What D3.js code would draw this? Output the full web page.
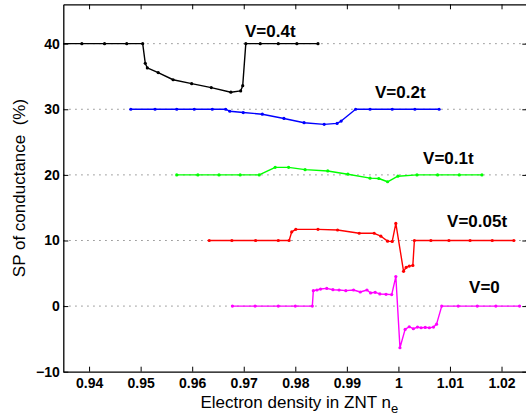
<!DOCTYPE html>
<html>
<head>
<meta charset="utf-8">
<script src="https://cdn.jsdelivr.net/npm/d3@7"></script>
<style>
body { margin: 0; background: #fff; }
svg { display: block; }
text { font-family: "Liberation Sans", Arial, Helvetica, sans-serif; }
</style>
</head>
<body>
<svg width="526" height="415"></svg>
<script>
// electron density n_e (x) and spin polarisation of conductance in % (y), one pair per curve
var nV04 = [0.9343, 0.9386, 0.9430, 0.9473, 0.9504, 0.9509, 0.9513, 0.9534, 0.9563, 0.9599,
            0.9637, 0.9675, 0.9694, 0.9698, 0.9704, 0.9732, 0.9767, 0.9803, 0.9844];
var spV04 = [40, 40, 40, 40, 40, 37.0, 36.3, 35.6, 34.5, 33.9,
             33.3, 32.6, 32.8, 33.6, 40, 40, 40, 40, 40];

var nV02 = [0.9481, 0.9528, 0.9570, 0.9604, 0.9639, 0.9665, 0.9673, 0.9699, 0.9736, 0.9778,
            0.9817, 0.9856, 0.9881, 0.9889, 0.9917, 0.9945, 0.9988, 1.0032, 1.0079];
var spV02 = [30, 30, 30, 30, 30, 30, 29.7, 29.5, 29.25, 28.6,
             27.95, 27.7, 27.85, 28.2, 30, 30, 30, 30, 30];

var nV01 = [0.9570, 0.9611, 0.9652, 0.9693, 0.9730, 0.9761, 0.9787, 0.9819, 0.9863, 0.9902,
            0.9945, 0.9962, 0.9979, 0.9999, 1.0036, 1.0076, 1.0118, 1.0162];
var spV01 = [20, 20, 20, 20, 20, 21.15, 21.15, 20.8, 20.6, 20.1,
             19.5, 19.45, 18.95, 19.8, 20, 20, 20, 20];

var nV005 = [0.9633, 0.9677, 0.9723, 0.9767, 0.9788, 0.9793, 0.9801, 0.9844, 0.9882, 0.9924,
             0.9953, 0.9966, 0.9979, 0.9988, 0.9995, 1.0010, 1.0015, 1.0021, 1.0028, 1.0031,
             1.0063, 1.0098, 1.0139, 1.0182, 1.0224];
var spV005 = [10, 10, 10, 10, 10, 11.3, 11.7, 11.7, 11.6, 11.1,
              11.1, 10.65, 9.9, 9.85, 12.6, 5.3, 5.9, 6.1, 6.2, 10,
              10, 10, 10, 10, 10];

var nV0 = [0.9678, 0.9722, 0.9767, 0.9800, 0.9833, 0.9835, 0.9842, 0.9849, 0.9861, 0.9873,
           0.9885, 0.9898, 0.9913, 0.9926, 0.9939, 0.9946, 0.9955, 0.9964, 0.9976, 0.9987,
           0.9995, 1.0003, 1.0013, 1.0021, 1.0029, 1.0037, 1.0044, 1.0052, 1.0060, 1.0068,
           1.0074, 1.0084, 1.0116, 1.0153, 1.0189, 1.0235];
var spV0 = [0, 0, 0, 0, 0, 2.35, 2.45, 2.6, 2.7, 2.5,
            2.45, 2.35, 2.45, 2.15, 2.45, 2.0, 2.1, 1.85, 1.8, 1.75,
            4.5, -6.35, -3.55, -3.15, -3.45, -3.2, -3.3, -3.25, -3.3, -3.2,
            -2.75, 0, 0, 0, 0, 0];

var curveNames = ["V=0.4t", "V=0.2t", "V=0.1t", "V=0.05t", "V=0"];
var curveColors = ["#000000", "#0000ff", "#00ff00", "#ff0000", "#ff00ff"];
// where the text labels sit, in data units (left end, baseline)
var labelN = [0.97025, 0.99546, 1.00479, 1.00944, 1.01371];
var labelSP = [41.0, 31.7, 21.6, 12.0, 2.0];

var xTicks = [0.94, 0.95, 0.96, 0.97, 0.98, 0.99, 1.00, 1.01, 1.02];
var yTicks = [-10, 0, 10, 20, 30, 40];

var svg = d3.select("svg");

var x = d3.scaleLinear().domain([0.935, 1.025]).range([63.3, 527.3]);
var y = d3.scaleLinear().domain([-10, 46]).range([371.7, 4.3]);

var series = [
    {n: nV04, sp: spV04},
    {n: nV02, sp: spV02},
    {n: nV01, sp: spV01},
    {n: nV005, sp: spV005},
    {n: nV0, sp: spV0}
];

svg.append("defs").append("clipPath").attr("id", "plotclip")
    .append("rect")
    .attr("x", x.range()[0]).attr("y", y.range()[1])
    .attr("width", x.range()[1] - x.range()[0])
    .attr("height", y.range()[0] - y.range()[1]);

// dotted horizontal grid
svg.append("g")
    .selectAll("line")
    .data(yTicks.filter(function(d) { return d > -10; }))
    .enter().append("line")
    .attr("x1", x.range()[0])
    .attr("x2", x.range()[1])
    .attr("y1", function(d) { return y(d); })
    .attr("y2", function(d) { return y(d); })
    .attr("stroke", "#777")
    .attr("stroke-width", 1)
    .attr("stroke-dasharray", "1.3,4.7");

var fmt = function(d) { return String(+d.toFixed(2)); };

// axes, ticks pointing inward like matlab
svg.append("g")
    .attr("transform", "translate(0," + y.range()[0] + ")")
    .call(d3.axisBottom(x).tickValues(xTicks).tickFormat(fmt).tickSizeInner(-5).tickSizeOuter(0).tickPadding(6));
svg.append("g")
    .attr("transform", "translate(0," + y.range()[1] + ")")
    .call(d3.axisTop(x).tickValues(xTicks).tickFormat("").tickSizeInner(-5).tickSizeOuter(0));
svg.append("g")
    .attr("transform", "translate(" + x.range()[0] + ",0)")
    .call(d3.axisLeft(y).tickValues(yTicks).tickFormat(d3.format("d")).tickSizeInner(-5).tickSizeOuter(0).tickPadding(3.5));
svg.append("g")
    .attr("transform", "translate(" + x.range()[1] + ",0)")
    .call(d3.axisRight(y).tickValues(yTicks).tickFormat("").tickSizeInner(-5).tickSizeOuter(0));

svg.selectAll(".domain").attr("stroke", "#000").attr("stroke-width", 1.3);
svg.selectAll(".tick line").attr("stroke", "#000").attr("stroke-width", 1);
svg.selectAll(".tick text")
    .attr("fill", "#000")
    .style("font-size", "14px")
    .style("font-weight", "bold")
    .style("font-family", "'Liberation Sans', Arial, sans-serif");

// curves
var line = d3.line()
    .x(function(d) { return x(d[0]); })
    .y(function(d) { return y(d[1]); });

var plot = svg.append("g").attr("clip-path", "url(#plotclip)");

series.forEach(function(s, i) {
    var pts = d3.zip(s.n, s.sp);
    plot.append("path")
        .datum(pts)
        .attr("fill", "none")
        .attr("stroke", curveColors[i])
        .attr("stroke-width", 1.4)
        .attr("stroke-linejoin", "round")
        .attr("d", line);
    plot.append("g")
        .selectAll("circle")
        .data(pts)
        .enter().append("circle")
        .attr("cx", function(d) { return x(d[0]); })
        .attr("cy", function(d) { return y(d[1]); })
        .attr("r", 1.6)
        .attr("fill", curveColors[i]);
});

// curve labels
svg.append("g")
    .selectAll("text")
    .data(curveNames)
    .enter().append("text")
    .attr("x", function(d, i) { return x(labelN[i]); })
    .attr("y", function(d, i) { return y(labelSP[i]); })
    .style("font-size", "17px")
    .style("font-weight", "bold")
    .text(function(d) { return d; });

// axis titles, centred on the axes box
var xt = svg.append("text")
    .attr("x", (x.range()[0] + x.range()[1]) / 2 + 4)
    .attr("y", 408)
    .attr("text-anchor", "middle")
    .style("font-size", "17px");
xt.append("tspan").text("Electron density in ZNT n");
xt.append("tspan").attr("dy", 5).style("font-size", "13px").text("e");

svg.append("text")
    .attr("transform", "translate(25," + ((y.range()[0] + y.range()[1]) / 2) + ") rotate(-90)")
    .attr("text-anchor", "middle")
    .style("font-size", "17px")
    .style("white-space", "pre")
    .text("SP of conductance  (%)");
</script>
</body>
</html>
